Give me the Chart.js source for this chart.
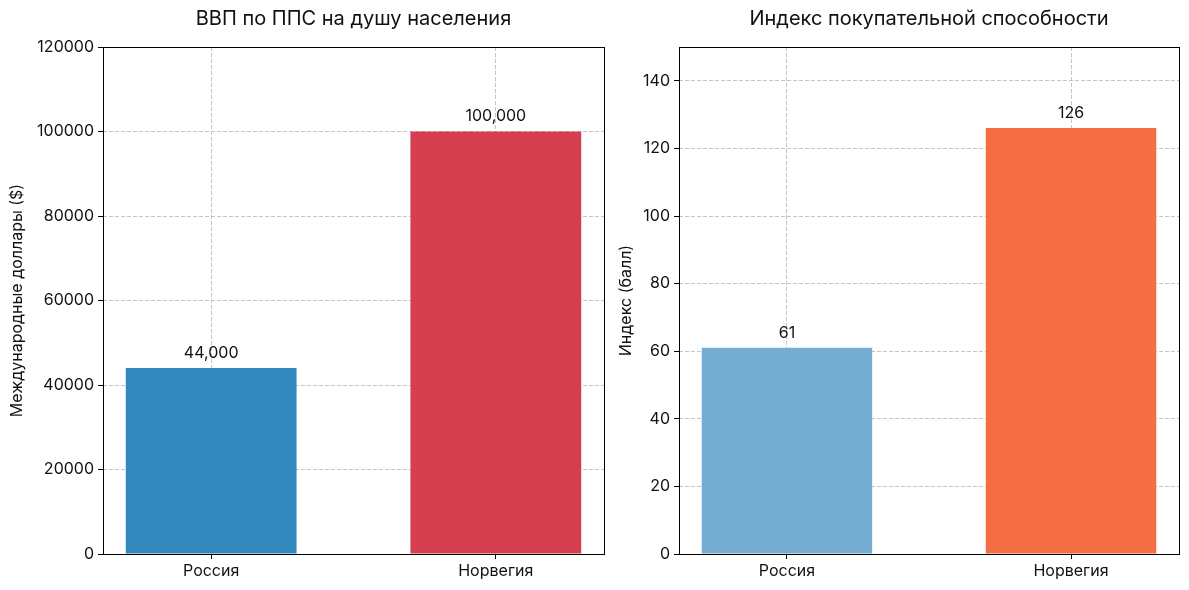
<!DOCTYPE html>
<html lang="ru">
<head>
<meta charset="utf-8">
<script src="https://cdn.jsdelivr.net/npm/chart.js@4.4.1/dist/chart.umd.min.js"></script>
<style>
  html, body { margin: 0; padding: 0; background: #fff; }
  #wrap { position: relative; width: 1189px; height: 590px; }
  #vvpChart { position: absolute; left: 0; top: 0; }
  #indeksChart { position: absolute; left: 606px; top: 0; }
</style>
</head>
<body>
<div id="wrap">
  <canvas id="vvpChart" width="606" height="590"></canvas>
  <canvas id="indeksChart" width="583" height="590"></canvas>
</div>
<script>
// Данные
const paises = ['Россия', 'Норвегия'];
const vvpPps = [44000, 100000];
const indeksPokup = [61, 126];
const coloresVvp = ['#3288bd', '#d53e4f'];
const coloresIndeks = ['#74add1', '#f46d43'];

const fuente = "'Inter', 'DejaVu Sans', sans-serif";
const gridColor = 'rgba(178,178,178,0.75)';

// Рамка вокруг области графика (как в matplotlib)
const marco = {
  id: 'marco',
  afterDatasetsDraw(chart) {
    const a = chart.chartArea;
    const ctx = chart.ctx;
    ctx.save();
    ctx.strokeStyle = '#000';
    ctx.lineWidth = 1;
    ctx.strokeRect(Math.round(a.left) + 0.5, Math.round(a.top) + 0.5,
      Math.round(a.right - a.left), Math.round(a.bottom - a.top));
    ctx.restore();
  }
};

// Подписи значений над столбиками
const etiquetas = {
  id: 'etiquetas',
  afterDatasetsDraw(chart, args, opts) {
    const ctx = chart.ctx;
    const meta = chart.getDatasetMeta(0);
    ctx.save();
    ctx.font = '16px ' + fuente;
    ctx.fillStyle = '#111';
    ctx.textAlign = 'center';
    ctx.textBaseline = 'bottom';
    meta.data.forEach((bar, i) => {
      const v = chart.data.datasets[0].data[i].y;
      ctx.fillText(opts.fmt(v), bar.x, bar.y - 7);
    });
    ctx.restore();
  }
};

function crearGrafico(id, valores, colores, titulo, tituloY, maxY, paso, anchoY, padDer, padTituloY, fmt) {
  const ctx = document.getElementById(id).getContext('2d');
  return new Chart(ctx, {
    type: 'bar',
    data: {
      datasets: [{
        data: valores.map((v, i) => ({ x: i, y: v })),
        backgroundColor: colores,
        barPercentage: 0.6,
        categoryPercentage: 1.0,
        inflateAmount: 0,
      }],
    },
    options: {
      responsive: false,
      animation: false,
      layout: { padding: { left: 0, right: padDer, top: 0, bottom: 0 } },
      plugins: {
        legend: { display: false },
        tooltip: { enabled: false },
        title: {
          display: true,
          fullSize: false,
          text: titulo,
          color: '#111',
          font: { family: fuente, size: 20, weight: 'normal' },
          padding: { top: 7, bottom: 16 },
        },
        etiquetas: { fmt: fmt },
      },
      scales: {
        x: {
          type: 'linear',
          min: -0.38,
          max: 1.38,
          offset: false,
          grid: { offset: false, color: gridColor, tickColor: '#000', tickLength: 5 },
          border: { display: false, dash: [4, 2] },
          ticks: {
            stepSize: 1,
            includeBounds: false,
            padding: 3,
            color: '#111',
            font: { family: fuente, size: 16 },
            callback: v => paises[v] ?? '',
          },
          afterFit: s => { s.height = 36; },
        },
        y: {
          min: 0,
          max: maxY,
          grid: { color: gridColor, tickColor: '#000', tickLength: 5 },
          border: { display: false, dash: [4, 2] },
          ticks: {
            stepSize: paso,
            includeBounds: false,
            padding: 4,
            color: '#111',
            font: { family: fuente, size: 16 },
            callback: v => String(v),
          },
          title: {
            display: true,
            text: tituloY,
            color: '#111',
            font: { family: fuente, size: 16 },
            padding: { top: padTituloY, bottom: 0 },
          },
          afterFit: s => { s.width = anchoY; },
        },
      },
    },
    plugins: [marco, etiquetas],
  });
}

crearGrafico('vvpChart', vvpPps, coloresVvp, 'ВВП по ППС на душу населения',
  'Международные доллары ($)', 120000, 20000, 103, 2, 8,
  v => v.toLocaleString('en-US'));

crearGrafico('indeksChart', indeksPokup, coloresIndeks, 'Индекс покупательной способности',
  'Индекс (балл)', 150, 20, 73, 10, 11,
  v => String(v));
</script>
</body>
</html>
